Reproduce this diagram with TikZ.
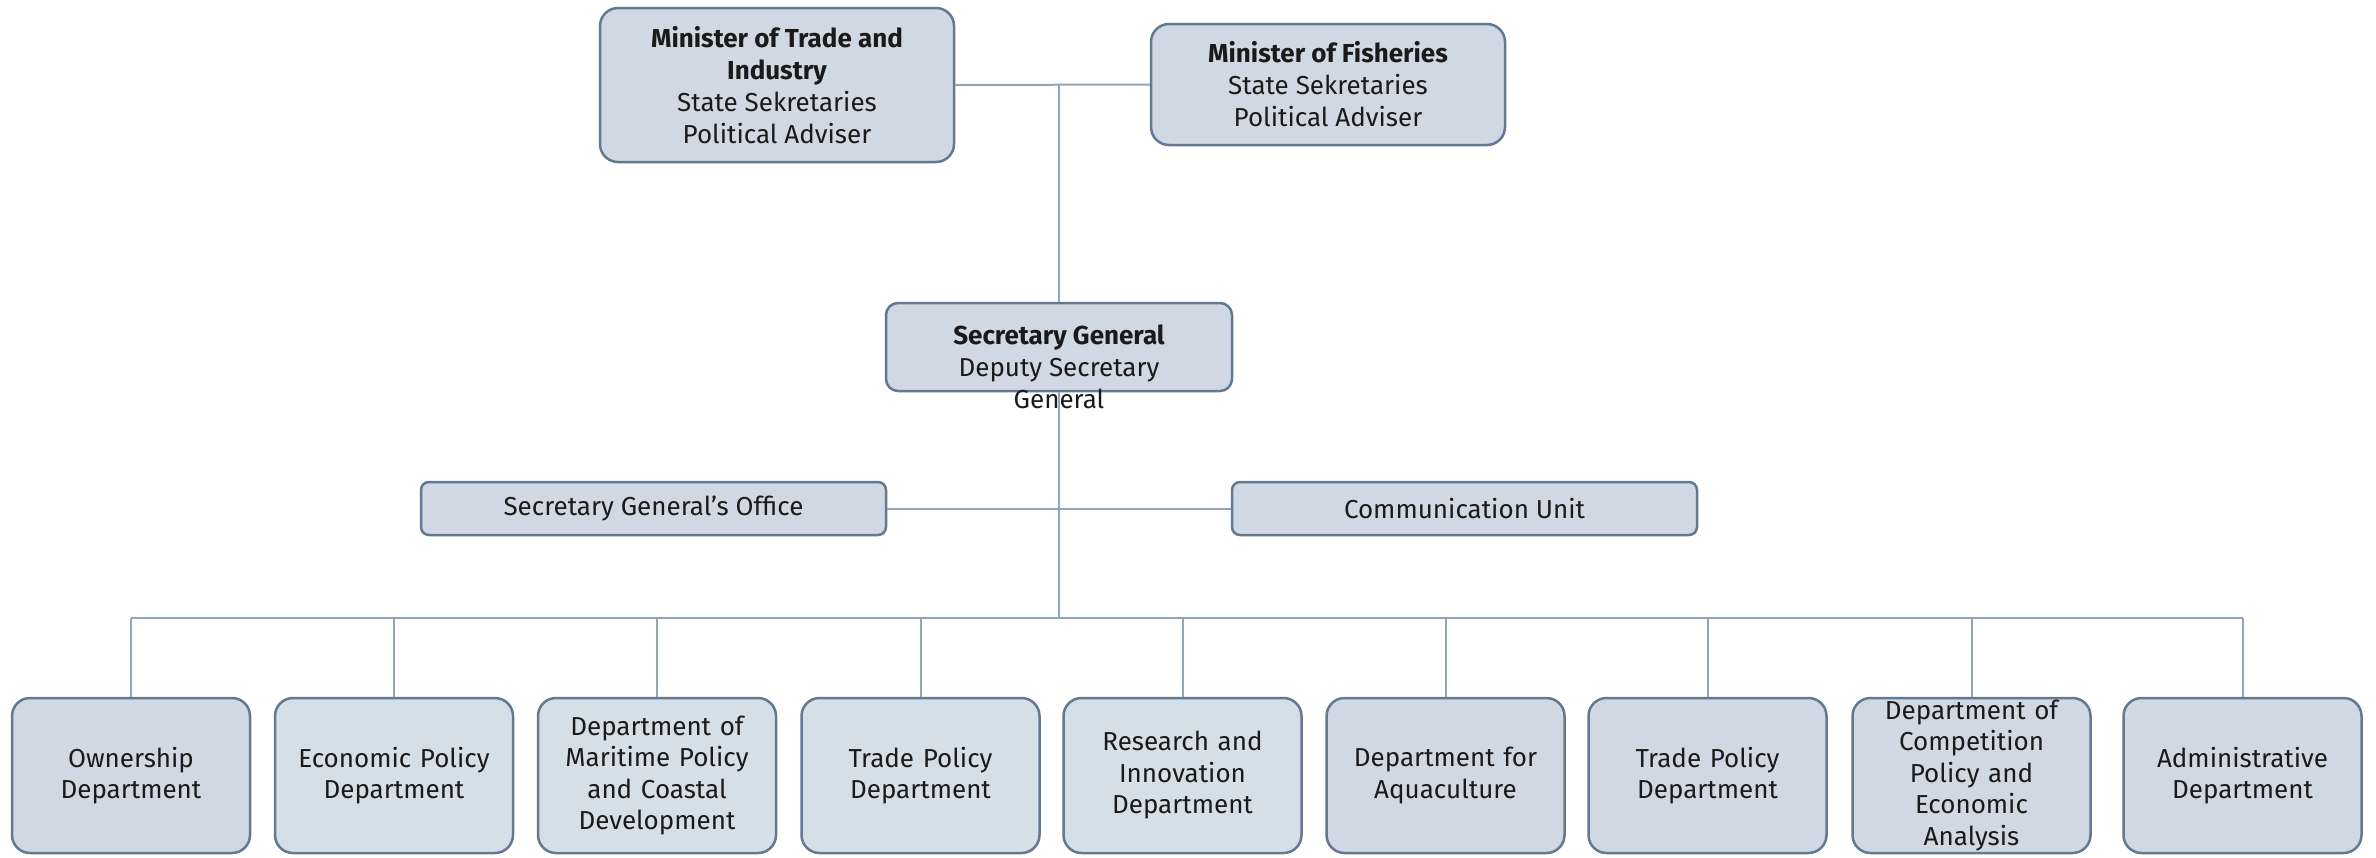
\documentclass[tikz,border=0pt]{standalone}
\usepackage{fontspec}
\setmainfont{Fira Sans}
\usetikzlibrary{positioning}
\definecolor{boxfill}{HTML}{D0D9E3}
\definecolor{boxfilllight}{HTML}{D5DFE8}
\definecolor{boxline}{HTML}{62798F}
\definecolor{linkline}{HTML}{93A5B8}
\definecolor{inktext}{HTML}{1A1A1A}
\tikzstyle{minister}=[rectangle, draw=boxline, fill=boxfill, line width=2.5pt, rounded corners=18pt, align=center, text=inktext, minimum width=354, inner sep=0pt, font=\fontsize{26}{32}\selectfont]
\tikzstyle{general}=[rectangle, draw=boxline, fill=boxfill, line width=2.5pt, rounded corners=12pt, minimum width=346, minimum height=88]
\tikzstyle{unit}=[rectangle, draw=boxline, fill=boxfill, line width=2.5pt, rounded corners=8pt, align=center, text=inktext, minimum width=465, minimum height=53, inner sep=0pt, font=\fontsize{26}{32}\selectfont]
\tikzstyle{dept}=[rectangle, draw=boxline, fill=boxfill, line width=2.5pt, rounded corners=18pt, align=center, text=inktext, text width=232, minimum width=238, minimum height=155, inner xsep=3pt, inner ysep=0pt, font=\fontsize{26}{31.5}\selectfont]
\tikzstyle{deptlight}=[dept, fill=boxfilllight]
\tikzstyle{link}=[draw=linkline, line width=2pt]

\begin{document}
\begin{tikzpicture}[x=1pt, y=-1pt]
    \useasboundingbox (0,0) rectangle (2376,857);
    % top level
    \node[minister, minimum height=154] (trade) at (777, 85) {\textbf{Minister of Trade and}\\\textbf{Industry}\\State Sekretaries\\Political Adviser};
    \node[minister, minimum height=121] (fish) at (1328, 84.5) {\textbf{Minister of Fisheries}\\State Sekretaries\\Political Adviser};
    \node[general] (sg) at (1059, 347) {};
    \node[align=center, text=inktext, inner sep=0pt, font=\fontsize{26}{32}\selectfont] (sgtext) at (1059, 367) {\textbf{Secretary General}\\Deputy Secretary\\General};
    \coordinate (join) at (sg.north |- trade.east);
    % staff units
    \node[unit] (office) at (653.5, 508.5) {Secretary General’s Office};
    \node[unit] (comm) at (1464.5, 508.5) {Communication Unit};
    % departments
    \node[dept] (d1) at (131, 775.5) {Ownership\\Department};
    \node[deptlight] (d2) at (394, 775.5) {Economic Policy\\Department};
    \node[deptlight] (d3) at (657, 775.5) {Department of\\Maritime Policy\\and Coastal\\Development};
    \node[deptlight] (d4) at (920.5, 775.5) {Trade Policy\\Department};
    \node[deptlight] (d5) at (1182.5, 775.5) {Research and\\Innovation\\Department};
    \node[dept] (d6) at (1445.5, 775.5) {Department for\\Aquaculture};
    \node[dept] (d7) at (1707.5, 775.5) {Trade Policy\\Department};
    \node[dept] (d8) at (1971.5, 775.5) {Department of\\Competition\\Policy and\\Economic\\Analysis};
    \node[dept] (d9) at (2242.5, 775.5) {Administrative\\Department};
    \coordinate (bus) at (1059, 618);
    % connectors
    \draw[link] (trade.east) -- (fish.west);
    \draw[link] (join) -- (sg.north);
    \draw[link] (sg.south) -- (bus);
    \draw[link] (office.east) -- (comm.west);
    \draw[link] (d1.north |- bus) -- (d9.north |- bus);
    \draw[link] (d1.north |- bus) -- (d1.north);
    \draw[link] (d2.north |- bus) -- (d2.north);
    \draw[link] (d3.north |- bus) -- (d3.north);
    \draw[link] (d4.north |- bus) -- (d4.north);
    \draw[link] (d5.north |- bus) -- (d5.north);
    \draw[link] (d6.north |- bus) -- (d6.north);
    \draw[link] (d7.north |- bus) -- (d7.north);
    \draw[link] (d8.north |- bus) -- (d8.north);
    \draw[link] (d9.north |- bus) -- (d9.north);
\end{tikzpicture}
\end{document}
